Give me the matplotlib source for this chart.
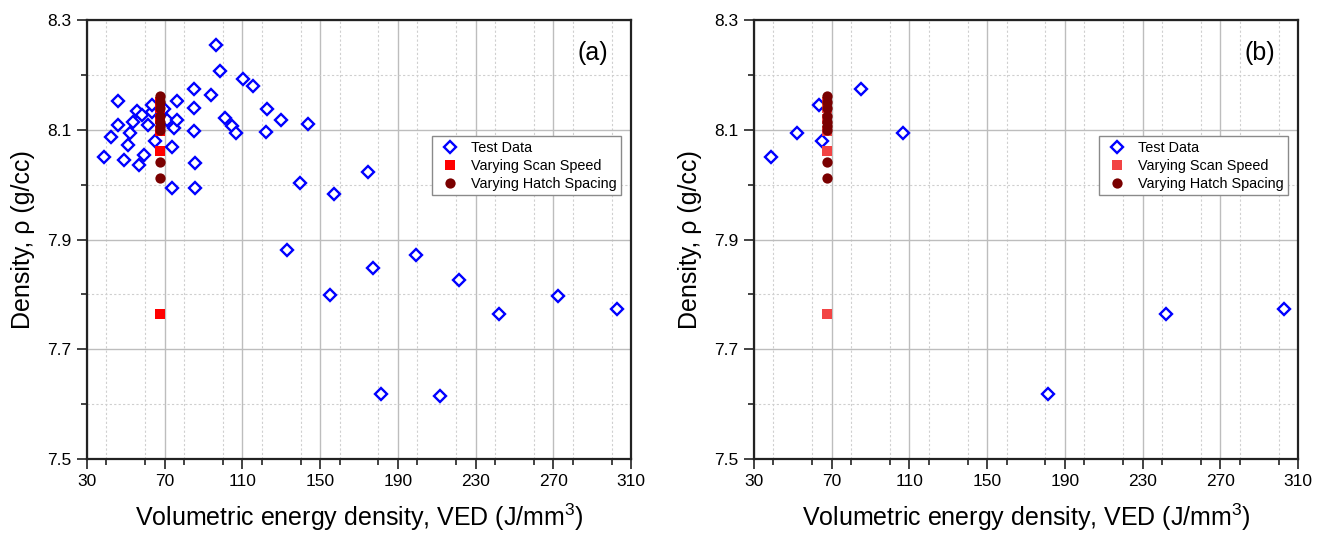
import matplotlib
matplotlib.use("Agg")
import matplotlib.pyplot as plt
from matplotlib.ticker import MultipleLocator, FixedLocator

plt.rcParams['font.family'] = ['Liberation Sans', 'DejaVu Sans']
plt.rcParams['mathtext.fontset'] = 'custom'
plt.rcParams['mathtext.rm'] = 'Liberation Sans'
plt.rcParams['mathtext.it'] = 'Liberation Sans:italic'

# ---------------- data ----------------
# Panel (a): all test data
test_ved_a = [39.0, 42.5, 45.7, 46.2, 49.2, 50.9, 52.1, 53.8, 55.9, 58.3, 56.7, 59.5,
              61.3, 63.5, 63.5, 64.8, 69.5, 71.1, 74.7, 76.5, 76.2, 73.5, 73.5, 84.9,
              85.0, 85.5, 85.5, 85.2, 94.0, 96.3, 98.3, 110.3, 115.3, 100.9, 104.6,
              106.9, 122.5, 122.2, 129.6, 144.0, 139.6, 157.0, 174.5, 132.8, 155.0,
              177.1, 199.1, 221.4, 241.9, 272.3, 302.7, 181.4, 211.7]
test_rho_a = [8.050, 8.087, 8.153, 8.108, 8.045, 8.072, 8.094, 8.114, 8.134, 8.126, 8.035, 8.054,
              8.108, 8.133, 8.146, 8.079, 8.137, 8.118, 8.104, 8.118, 8.153, 8.069, 7.994, 8.098,
              8.140, 8.040, 7.993, 8.175, 8.164, 8.254, 8.207, 8.193, 8.180, 8.121, 8.106,
              8.094, 8.138, 8.095, 8.118, 8.110, 8.003, 7.983, 8.023, 7.880, 7.798,
              7.848, 7.872, 7.827, 7.765, 7.797, 7.773, 7.618, 7.614]

# Panel (b): selected test data
test_ved_b = [39.0, 52.1, 63.5, 64.8, 85.2, 106.9, 181.4, 241.9, 302.7]
test_rho_b = [8.050, 8.094, 8.146, 8.079, 8.175, 8.094, 7.618, 7.765, 7.773]

# Varying scan speed
scan_ved = [67.7, 67.7, 67.7, 67.7, 67.7, 67.7]
scan_rho = [8.150, 8.140, 8.120, 8.097, 8.062, 7.764]

# Varying hatch spacing
hatch_ved = [67.7, 67.7, 67.7, 67.7, 67.7, 67.7, 67.7, 67.7, 67.7]
hatch_rho = [8.161, 8.150, 8.140, 8.125, 8.115, 8.107, 8.100, 8.041, 8.012]

x_ticks = [30, 70, 110, 150, 190, 230, 270, 310]
y_ticks = [7.5, 7.7, 7.9, 8.1, 8.3]
panel_labels = ['(a)', '(b)']

legend_labels = ['Test Data', 'Varying Scan Speed', 'Varying Hatch Spacing']

# ---------------- figure ----------------
fig = plt.figure(figsize=(13.33, 5.41), dpi=100)
W, H = 1333, 541
ax_w = 544 / W
ax_h = 439 / H
bottom = (541 - 459) / H
axes = [fig.add_axes([87 / W, bottom, ax_w, ax_h]),
        fig.add_axes([754 / W, bottom, ax_w, ax_h])]

datasets = [(test_ved_a, test_rho_a, '#ff0000'),
            (test_ved_b, test_rho_b, '#f24444')]

for ax, (tx, ty, sq_col), lab in zip(axes, datasets, panel_labels):
    ax.set_xlim(30, 310)
    ax.set_ylim(7.5, 8.3)
    ax.xaxis.set_major_locator(FixedLocator(x_ticks))
    ax.xaxis.set_minor_locator(MultipleLocator(20))
    ax.yaxis.set_major_locator(FixedLocator(y_ticks))
    ax.yaxis.set_minor_locator(MultipleLocator(0.1))
    ax.set_xticklabels([str(v) for v in x_ticks])
    ax.set_yticklabels([f'{v:.1f}' for v in y_ticks])

    ax.grid(True, which='major', color='#bdbdbd', lw=1.0, ls='-', zorder=0)
    ax.grid(True, which='minor', color='#cfcfcf', lw=0.8, ls=(0, (2, 2)), zorder=0)
    ax.set_axisbelow(True)

    for s in ax.spines.values():
        s.set_linewidth(1.6)
        s.set_color('#222222')

    ax.tick_params(which='both', direction='out', top=False, right=False,
                   width=1.2, colors='#222222', labelcolor='black')
    ax.tick_params(which='major', length=7, labelsize=12.5, pad=4)
    ax.tick_params(which='minor', length=4.5)

    h1, = ax.plot(tx, ty, ls='none', marker='D', ms=6.0, mfc='white', mec='#0000ff',
                  mew=1.7, zorder=3)
    h2, = ax.plot(scan_ved, scan_rho, ls='none', marker='s', ms=6.5, mfc=sq_col,
                  mec=sq_col, mew=0, zorder=4)
    h3, = ax.plot(hatch_ved, hatch_rho, ls='none', marker='o', ms=7.4, mfc='#7a0000',
                  mec='#7a0000', mew=0, zorder=5)

    ax.set_xlabel('Volumetric energy density, VED (J/mm$^{3}$)', fontsize=18, labelpad=9)
    ax.set_ylabel('Density, ρ (g/cc)', fontsize=18, labelpad=9)

    ax.text(0.93, 0.925, lab, transform=ax.transAxes, fontsize=18,
            ha='center', va='center')

    leg = ax.legend([h1, h2, h3], legend_labels, loc='upper right',
                    bbox_to_anchor=(0.982, 0.735), fontsize=10.4, frameon=True,
                    fancybox=False, edgecolor='#8a8a8a', framealpha=1,
                    borderpad=0.3, labelspacing=0.28, handlelength=2.0,
                    handletextpad=0.45, borderaxespad=0)
    leg.get_frame().set_linewidth(1.0)

fig.savefig('out.png', dpi=100)
